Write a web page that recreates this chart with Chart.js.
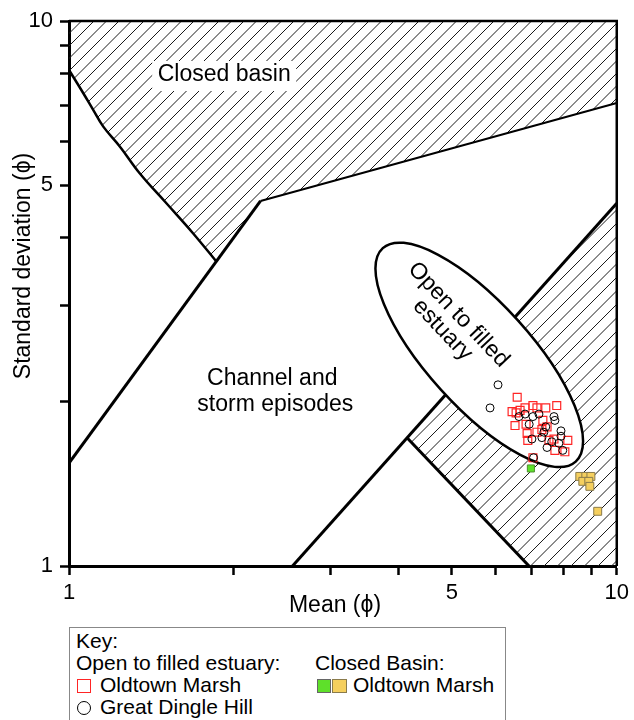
<!DOCTYPE html>
<html>
<head>
<meta charset="utf-8">
<script src="https://cdn.jsdelivr.net/npm/chart.js@4.4.1/dist/chart.umd.min.js"></script>
<style>
    html, body { margin: 0; padding: 0; background: #fff; overflow: hidden; }
    #wrap { position: relative; width: 634px; height: 720px; }
    #key { position: absolute; left: 69px; top: 627px; width: 437px; height: 110px; border: 1px solid #888; box-sizing: border-box; background: #fff;
           font: 21px 'Liberation Sans', Arial, sans-serif; line-height: 22px; color: #000; }
    #key div { position: absolute; white-space: nowrap; }
    #key .mk { box-sizing: border-box; width: 14px; height: 14px; }
</style>
</head>
<body>
<div id="wrap">
    <canvas id="chart" width="634" height="720"></canvas>
    <div id="key">
        <div style="left:6px; top:2px;">Key:</div>
        <div style="left:6px; top:24px;">Open to filled estuary:</div>
        <div style="left:245px; top:24px;">Closed Basin:</div>
        <div class="mk" style="left:7px; top:51px; border:1.5px solid #ff2525;"></div>
        <div style="left:30px; top:46px;">Oldtown Marsh</div>
        <div class="mk" style="left:7px; top:73px; border:1px solid #000; border-radius:50%;"></div>
        <div style="left:30px; top:68px;">Great Dingle Hill</div>
        <div class="mk" style="left:247px; top:51px; background:#5ee02a; border:1px solid #666;"></div>
        <div class="mk" style="left:262px; top:51px; width:15px; background:#f5cf5e; border:1px solid #8a7b4c;"></div>
        <div style="left:283px; top:46px;">Oldtown Marsh</div>
    </div>
</div>
<script>
const tickValues = [1, 2, 3, 4, 5, 6, 7, 8, 9, 10];
const tickLabels = [1, 5, 10];

// Open to filled estuary - Oldtown Marsh (mean phi, std dev phi)
const oldtownMean = [6.58, 7.77, 6.44, 6.55, 6.80, 7.03, 7.15, 7.42, 6.66, 6.52, 6.83, 6.86, 6.88, 7.30, 7.15, 7.46, 7.52, 8.14, 7.71, 8.04, 7.03, 7.33, 7.68];
const oldtownSd   = [2.04, 1.97, 1.92, 1.91, 1.95, 1.97, 1.95, 1.95, 1.93, 1.81, 1.82, 1.75, 1.70, 1.78, 1.76, 1.80, 1.70, 1.70, 1.63, 1.62, 1.58, 1.85, 1.71];

// Open to filled estuary - Great Dingle Hill
const dingleMean = [6.07, 5.87, 6.80, 7.03, 7.21, 7.68, 7.71, 6.92, 7.42, 7.36, 7.30, 7.91, 7.91, 7.00, 7.61, 7.84, 7.97, 7.05, 7.46, 6.63];
const dingleSd   = [2.15, 1.95, 1.90, 1.88, 1.90, 1.88, 1.85, 1.82, 1.80, 1.76, 1.72, 1.77, 1.73, 1.71, 1.69, 1.68, 1.63, 1.58, 1.65, 1.88];

// Closed basin - Oldtown Marsh
const closedGreenMean = [6.97];
const closedGreenSd   = [1.51];
const closedYellowMean = [8.56, 8.78, 8.97, 8.67, 8.89, 8.93, 9.23];
const closedYellowSd   = [1.46, 1.46, 1.46, 1.43, 1.43, 1.40, 1.26];

// field boundaries
const basinCurveMean = [1, 1.062, 1.107, 1.155, 1.239, 1.347, 1.506, 1.684, 1.858];
const basinCurveSd   = [8.13, 7.37, 6.87, 6.40, 5.88, 5.25, 4.63, 4.08, 3.62];
const channelMean = [1, 2.237];
const channelSd   = [1.545, 4.675];
const basinTopMean = [2.237, 10];
const basinTopSd   = [4.675, 7.07];
const estuaryEdgeMean = [2.559, 10];
const estuaryEdgeSd   = [1, 4.63];
const estuaryFootMean = [4.145, 6.915];
const estuaryFootSd   = [1.718, 1];

// ellipse: centre, end of long axis, short/long ratio
const ellipseCentre = [5.61, 2.44];
const ellipseTip = [3.74, 3.83];
const ellipseRatio = 0.36;

// label anchors (mean, sd)
const basinLabelAt = [1.92, 7.96];
const channelLabelAt = [2.37, 2.09];
const estuaryLabelAt = [4.97, 2.80];

const FONT = "'Liberation Sans', Arial, sans-serif";
const pts = (xs, ys) => xs.map((x, i) => ({ x, y: ys[i] }));

const lineDs = (xs, ys, w, tension = 0) => ({
    data: pts(xs, ys), showLine: true, borderColor: '#000', borderWidth: w, tension,
    pointRadius: 0, fill: false, order: 5, borderJoinStyle: 'round'
});

function hatch(ctx, poly, gap) {
    ctx.save();
    ctx.beginPath();
    poly.forEach((p, i) => i ? ctx.lineTo(p[0], p[1]) : ctx.moveTo(p[0], p[1]));
    ctx.closePath();
    ctx.clip();
    const xs = poly.map(p => p[0]), ys = poly.map(p => p[1]);
    const x0 = Math.min(...xs), x1 = Math.max(...xs), y0 = Math.min(...ys), y1 = Math.max(...ys), h = y1 - y0;
    ctx.beginPath();
    for (let x = x0 - h; x < x1; x += gap) { ctx.moveTo(x, y1); ctx.lineTo(x + h, y0); }
    ctx.lineWidth = 1;
    ctx.strokeStyle = '#1a1a1a';
    ctx.stroke();
    ctx.restore();
}

const fieldsPlugin = {
    id: 'fields',
    beforeDatasetsDraw(chart) {
        const { ctx, chartArea: a, scales: { x, y } } = chart;
        const px = (m, s) => [x.getPixelForValue(m), y.getPixelForValue(s)];

        const basinPoly = basinCurveMean.map((m, i) => px(m, basinCurveSd[i]))
            .concat([px(basinTopMean[0], basinTopSd[0]), px(basinTopMean[1], basinTopSd[1]), px(x.max, y.max), px(x.min, y.max)]);
        hatch(ctx, basinPoly, 12.5);

        const estuaryPoly = [px(estuaryEdgeMean[1], estuaryEdgeSd[1]), px(estuaryFootMean[0], estuaryFootSd[0]),
            px(estuaryFootMean[1], estuaryFootSd[1]), px(x.max, y.min)];
        hatch(ctx, estuaryPoly, 13.5);

        ctx.save();
        ctx.font = `23px ${FONT}`;
        ctx.fillStyle = '#000';
        ctx.textAlign = 'center';
        ctx.textBaseline = 'middle';
        let [lx, ly] = px(...basinLabelAt);
        ctx.fillStyle = '#fff';
        ctx.fillRect(lx - 72, ly - 14, 144, 30);
        ctx.fillStyle = '#000';
        ctx.fillText('Closed basin', lx, ly);
        [lx, ly] = px(...channelLabelAt);
        ctx.fillText('Channel and', lx - 2, ly - 13);
        ctx.fillText('storm episodes', lx + 1, ly + 13);

        // frame top and right
        ctx.strokeStyle = '#000';
        ctx.lineWidth = 2.5;
        ctx.beginPath();
        ctx.moveTo(a.left, a.top);
        ctx.lineTo(a.right, a.top);
        ctx.lineTo(a.right, a.bottom);
        ctx.stroke();

        // axis titles
        ctx.fillText('Mean (ϕ)', a.left + 266, a.bottom + 40);
        ctx.translate(a.left - 45, a.top + 245);
        ctx.rotate(-Math.PI / 2);
        ctx.fillText('Standard deviation (ϕ)', 0, 0);
        ctx.restore();
    },
    beforeDatasetDraw(chart, args) {
        if (!chart.data.datasets[args.index].ellipseBelow) return;
        const { ctx, scales: { x, y } } = chart;
        const cx = x.getPixelForValue(ellipseCentre[0]), cy = y.getPixelForValue(ellipseCentre[1]);
        const tx = x.getPixelForValue(ellipseTip[0]), ty = y.getPixelForValue(ellipseTip[1]);
        const r1 = Math.hypot(cx - tx, cy - ty), ang = Math.atan2(cy - ty, cx - tx);
        ctx.save();
        ctx.beginPath();
        ctx.ellipse(cx, cy, r1, r1 * ellipseRatio, ang, 0, Math.PI * 2);
        ctx.fillStyle = '#fff';
        ctx.fill();
        ctx.lineWidth = 2.5;
        ctx.strokeStyle = '#000';
        ctx.stroke();

        const lx = x.getPixelForValue(estuaryLabelAt[0]), ly = y.getPixelForValue(estuaryLabelAt[1]);
        ctx.translate(lx, ly);
        ctx.rotate(46.5 * Math.PI / 180);
        ctx.font = `23px ${FONT}`;
        ctx.fillStyle = '#000';
        ctx.textAlign = 'center';
        ctx.textBaseline = 'middle';
        ctx.fillText('Open to filled', 0, -11);
        ctx.fillText('estuary', 0, 11);
        ctx.restore();
    }
};

const axisCommon = {
    type: 'logarithmic',
    min: 1,
    max: 10,
    afterBuildTicks: s => { s.ticks = tickValues.map(v => ({ value: v })); },
    grid: { drawOnChartArea: false, drawTicks: true, tickLength: 9, tickWidth: 2.5, tickColor: '#000' },
    border: { display: true, color: '#000', width: 3 },
};

new Chart(document.getElementById('chart'), {
    type: 'scatter',
    data: {
        datasets: [
            lineDs(basinCurveMean, basinCurveSd, 2.5, 0.4),
            lineDs(channelMean, channelSd, 3),
            lineDs(basinTopMean, basinTopSd, 2),
            lineDs(estuaryEdgeMean, estuaryEdgeSd, 3),
            lineDs(estuaryFootMean, estuaryFootSd, 3),
            { label: 'Oldtown Marsh', data: pts(oldtownMean, oldtownSd), pointStyle: 'rect', pointRadius: 5.6,
              borderColor: '#ff2525', backgroundColor: 'rgba(0,0,0,0)', borderWidth: 1.2, order: 3, ellipseBelow: true },
            { label: 'Great Dingle Hill', data: pts(dingleMean, dingleSd), pointStyle: 'circle', pointRadius: 4,
              borderColor: '#000', backgroundColor: 'rgba(0,0,0,0)', borderWidth: 1, order: 2 },
            { label: 'Oldtown Marsh (closed)', data: pts(closedGreenMean, closedGreenSd), pointStyle: 'rect', pointRadius: 5,
              borderColor: '#4f8f33', backgroundColor: '#5ee02a', borderWidth: 1, order: 1 },
            { label: 'Oldtown Marsh (closed)', data: pts(closedYellowMean, closedYellowSd), pointStyle: 'rect', pointRadius: 5.6,
              borderColor: '#8a7b4c', backgroundColor: '#f5cf5e', borderWidth: 1, order: 1 }
        ]
    },
    options: {
        responsive: false,
        devicePixelRatio: 1,
        animation: false,
        events: [],
        layout: { padding: { top: 21, right: 16, left: 0, bottom: 0 } },
        plugins: { legend: { display: false }, tooltip: { enabled: false } },
        scales: {
            x: {
                ...axisCommon,
                afterFit: s => { s.height = 154; },
                ticks: { autoSkip: false, maxRotation: 0, padding: 5, color: '#000', font: { family: FONT, size: 22 },
                         callback: v => tickLabels.includes(v) ? String(v) : '' }
            },
            y: {
                ...axisCommon,
                afterFit: s => { s.width = 69; },
                ticks: { autoSkip: false, padding: 7, color: '#000', font: { family: FONT, size: 22 },
                         callback: v => tickLabels.includes(v) ? String(v) : '' }
            }
        }
    },
    plugins: [fieldsPlugin]
});
</script>
</body>
</html>
